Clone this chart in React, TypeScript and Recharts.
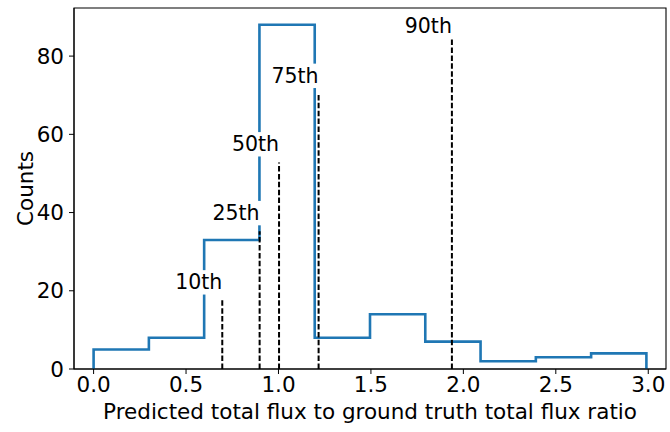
import React from 'react';
import {
  ComposedChart,
  Line,
  XAxis,
  YAxis,
  ReferenceLine,
  ReferenceDot,
  ReferenceArea,
} from 'recharts';

const binEdges = [0, 0.299, 0.598, 0.897, 1.196, 1.495, 1.794, 2.093, 2.392, 2.691, 2.99];
const counts = [5, 8, 33, 88, 8, 14, 7, 2, 3, 4];
const pctLabels = ['10th', '25th', '50th', '75th', '90th'];
const pctValues = [0.696, 0.898, 1.003, 1.217, 1.938];
const pctLineTops = [17.6, 35.2, 52.8, 70.4, 84.3];
const pctLabelY = [20.4, 38.1, 55.7, 73.2, 85.8];
const xTicks = [0, 0.5, 1, 1.5, 2, 2.5, 3];
const yTicks = [0, 20, 40, 60, 80];
const xDomain = [-0.106, 3.096];
const yDomain = [0, 92.3];

const stepPoints = (() => {
  const pts: { x: number; y: number }[] = [{ x: binEdges[0], y: 0 }];
  counts.forEach((c, i) => {
    pts.push({ x: binEdges[i], y: c });
    pts.push({ x: binEdges[i + 1], y: c });
  });
  pts.push({ x: binEdges[binEdges.length - 1], y: 0 });
  return pts;
})();

const FONT = '"DejaVu Sans", sans-serif';
const LABEL_FS = 20.5;
const TICK_FS = 21.5;
const AXIS_FS = 21.5;

const charW: Record<string, number> = {
  '0': 0.636, '1': 0.636, '2': 0.636, '5': 0.636, '7': 0.636, '9': 0.636,
  t: 0.392, h: 0.634,
};
const textWidth = (s: string, fs: number) =>
  s.split('').reduce((a, ch) => a + (charW[ch] ?? 0.6), 0) * fs;

const makeLabelShape = (text: string) => (props: any) => {
  const { cx, cy } = props;
  const w = textWidth(text, LABEL_FS);
  return (
    <g>
      <rect
        x={cx - w - 2}
        y={cy - 0.93 * LABEL_FS}
        width={w + 4}
        height={1.19 * LABEL_FS}
        fill="#fff"
        stroke="none"
      />
      <text
        x={cx}
        y={cy}
        textAnchor="end"
        fontSize={LABEL_FS}
        fontFamily={FONT}
        fill="#000"
      >
        {text}
      </text>
    </g>
  );
};

const XLabel = (props: any) => {
  const vb = props.viewBox;
  return (
    <text
      x={vb.x + vb.width / 2}
      y={vb.y + 50}
      textAnchor="middle"
      fontSize={AXIS_FS}
      fontFamily={FONT}
      fill="#000"
    >
      Predicted total flux to ground truth total flux ratio
    </text>
  );
};

const YLabel = (props: any) => {
  const vb = props.viewBox;
  const x = vb.x + 25;
  const y = vb.y + vb.height / 2;
  return (
    <text
      x={x}
      y={y}
      transform={`rotate(-90, ${x}, ${y})`}
      textAnchor="middle"
      dominantBaseline="central"
      fontSize={AXIS_FS}
      fontFamily={FONT}
      fill="#000"
    >
      Counts
    </text>
  );
};

export default function App() {
  return (
    <div style={{ position: 'absolute', left: 0, top: 0, width: 670, height: 432, background: '#fff', fontFamily: FONT }}>
      <ComposedChart
        width={670}
        height={432}
        data={stepPoints}
        margin={{ top: 8, right: 4, left: 0, bottom: 0 }}
      >
        <XAxis
          dataKey="x"
          type="number"
          domain={xDomain}
          allowDataOverflow
          ticks={xTicks}
          tickFormatter={(v: number) => v.toFixed(1)}
          height={63}
          tick={{ fill: '#000', fontSize: TICK_FS, fontFamily: FONT }}
          tickSize={5}
          tickMargin={3}
          stroke="#000"
          label={XLabel}
        />
        <YAxis
          type="number"
          domain={yDomain}
          allowDataOverflow
          ticks={yTicks}
          width={74}
          tick={{ fill: '#000', fontSize: TICK_FS, fontFamily: FONT }}
          tickSize={5}
          tickMargin={5}
          stroke="#000"
          label={YLabel}
        />
        <ReferenceArea
          x1={xDomain[0]}
          x2={xDomain[1]}
          y1={yDomain[0]}
          y2={yDomain[1]}
          fill="none"
          fillOpacity={0}
          stroke="#000"
          strokeWidth={1.1}
          ifOverflow="visible"
        />
        <Line
          dataKey="y"
          type="linear"
          stroke="#1f77b4"
          strokeWidth={2.6}
          strokeLinejoin="miter"
          dot={false}
          activeDot={false}
          isAnimationActive={false}
        />
        {pctValues.map((p, i) => (
          <ReferenceLine
            key={'l' + i}
            segment={[{ x: p, y: 0 }, { x: p, y: pctLineTops[i] }]}
            stroke="#000"
            strokeWidth={2}
            strokeDasharray="5.5 2.4"
          />
        ))}
        {pctValues.map((p, i) => (
          <ReferenceDot
            key={'d' + i}
            x={p}
            y={pctLabelY[i]}
            r={0}
            shape={makeLabelShape(pctLabels[i])}
          />
        ))}
      </ComposedChart>
    </div>
  );
}
